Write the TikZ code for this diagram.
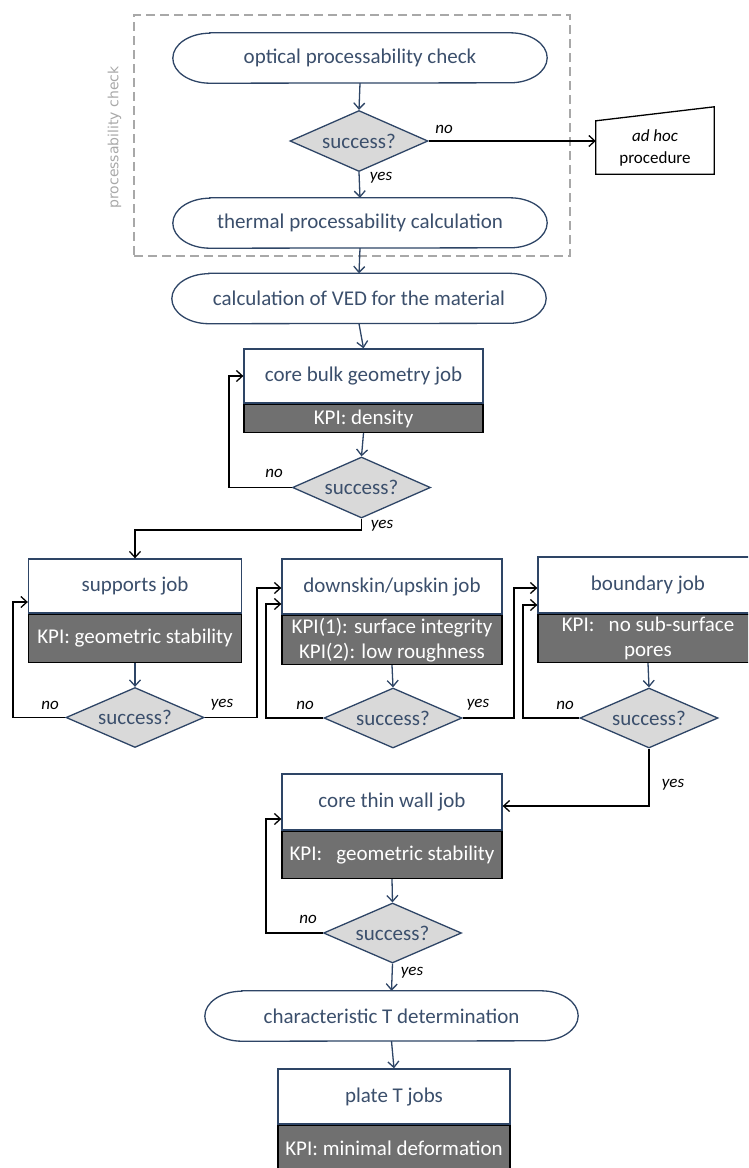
\documentclass[tikz,border=0pt]{standalone}
\usepackage{fontspec}
\setmainfont{Carlito}
\newfontfamily\dejavu{DejaVu Sans}
\usetikzlibrary{shapes.geometric,arrows.meta}
\definecolor{txt}{HTML}{3B4F6C}
\definecolor{bord}{HTML}{2E4566}
\definecolor{kpig}{HTML}{707070}
\definecolor{decg}{HTML}{D9D9D9}
\definecolor{dashg}{HTML}{A8A8A8}
\tikzset{
  base/.style={font=\fontsize{21}{25}\selectfont, text=txt, inner sep=0pt, align=center},
  term/.style={base, minimum width=374pt, minimum height=50pt},
  termline/.style={draw=bord, line width=1.3pt, fill=white},
  job/.style={base, draw=bord, line width=1.3pt, fill=white},
  kpi/.style={base, draw=black, line width=1.5pt, fill=kpig, text=white},
  dec/.style={base, diamond, draw=bord, fill=decg, line width=1.3pt,
    minimum width=138pt, minimum height=61pt, aspect=2.2},
  lab/.style={font=\fontsize{17}{20}\selectfont\itshape, text=black, inner sep=0pt},
  flow/.style={draw=bord, line width=1.3pt, -{Straight Barb[length=6pt,width=11pt]}},
  back/.style={draw=black, line width=1.3pt, -{Straight Barb[length=6pt,width=11pt]}},
}
\newcommand\stadium[1]{%
  \draw[termline] ([xshift=37pt]#1.north west) -- ([xshift=-37pt]#1.north east)
    arc[start angle=90,end angle=-90,x radius=37pt,y radius=25pt]
    -- ([xshift=37pt]#1.south west)
    arc[start angle=270,end angle=90,x radius=37pt,y radius=25pt] -- cycle;}
\begin{document}
\begin{tikzpicture}[x=1pt,y=-1pt]
\useasboundingbox (0,0) rectangle (748,1168);
\clip (0,0) rectangle (748,1168);

% processability group
\node[draw=dashg, line width=1.5pt, dash pattern=on 9pt off 5pt,
      minimum width=436pt, minimum height=241pt, inner sep=0pt] (grp) at (352,135.5) {};
\node[rotate=90, font=\dejavu\fontsize{14}{16}\selectfont, text=dashg, inner sep=0pt] (grplab) at (114.5,137.5) {processability check};

% terminals
\node[term] (t1) at (360,58) {};
\stadium{t1}
\node[base] at (t1) {optical processability check};
\node[dec] (d1) at (359,141) {success?};
\node[term] (t2) at (360,223) {};
\stadium{t2}
\node[base] at (t2) {thermal processability calculation};
\node[term, minimum height=50pt] (t3) at (359,298.5) {};
\stadium{t3}
\node[base] at (t3) {calculation of VED for the material};

% ad hoc
\node[base, font=\fontsize{17}{22}\selectfont, text=black, minimum width=118pt, minimum height=53pt] (adhoc) at (655,147.5) {\textit{ad hoc}\\procedure};
\draw[line width=1.3pt] (adhoc.south west) -- (adhoc.north west) -- ([yshift=14pt]adhoc.north east) -- (adhoc.south east) -- cycle;

% core bulk
\node[job, minimum width=239pt, minimum height=54pt] (core) at (363.5,376) {core bulk geometry job};
\node[kpi, minimum width=239pt, minimum height=28pt, anchor=north] (kcore) at (core.south) {KPI: density};
\node[dec] (d2) at (361.5,487.5) {success?};

% row of jobs
\node[job, minimum width=213pt, minimum height=54pt] (sup) at (135,586) {supports job};
\node[kpi, minimum width=213pt, minimum height=48pt, anchor=north] (ksup) at (sup.south) {KPI: geometric stability};
\node[job, minimum width=220pt, minimum height=55pt] (dsk) at (392,586.5) {downskin/upskin job};
\node[kpi, minimum width=220pt, minimum height=49pt, anchor=north] (kdsk) at (dsk.south) {KPI(1): surface integrity\\KPI(2): low roughness};
\node[job, minimum width=220pt, minimum height=56pt] (bnd) at (648,585) {boundary job};
\node[kpi, minimum width=220pt, minimum height=48pt, anchor=north] (kbnd) at (bnd.south) {KPI:\ \ \ no sub-surface\\pores};

\node[dec, minimum height=60pt] (d3) at (135,717.5) {success?};
\node[dec, minimum height=60pt] (d4) at (393,718) {success?};
\node[dec, minimum height=60pt] (d5) at (649,718) {success?};

% core thin wall
\node[job, minimum width=220pt, minimum height=56pt] (thin) at (392,802) {core thin wall job};
\node[kpi, minimum width=220pt, minimum height=47pt, anchor=north] (kthin) at (thin.south) {KPI:\ \ \ geometric stability};
\node[dec, minimum height=60pt] (d6) at (392.5,933) {success?};

\node[term, minimum width=373pt] (t4) at (391.5,1016) {};
\stadium{t4}
\node[base] at (t4) {characteristic T determination};

\node[job, minimum width=232pt, minimum height=55pt] (plate) at (394,1096.5) {plate T jobs};
\node[kpi, minimum width=232pt, minimum height=50pt, anchor=north] (kplate) at (plate.south) {};
\node[base, text=white] at (394,1148) {KPI: minimal deformation};

% helper coordinates
\coordinate (c1) at (229,376);
\coordinate (j1) at (135,530);
\coordinate (c3) at (13,602);
\coordinate (c4) at (257,588);
\coordinate (c5) at (266,604);
\coordinate (c6) at (514,588);
\coordinate (c7) at (523,605);
\coordinate (c8) at (649,806);
\coordinate (c9) at (266,819);

% connectors
\draw[flow] (t1.south) -- (d1.north);
\draw[flow] (d1.south) -- (t2.north);
\draw[back] (d1.east) -- (d1.east -| adhoc.west);
\draw[flow] (t2.south) -- (t3.north);
\draw[flow] (t3.south) -- (core.north);
\draw[flow] (kcore.south) -- (d2.north);
\draw[back] (d2.west) -| (c1) -- (core.west);
\draw[back] (d2.south) |- (j1) -- (sup.north);

\draw[flow] (ksup.south) -- (d3.north);
\draw[flow] (kdsk.south) -- (d4.north);
\draw[flow] (kbnd.south) -- (d5.north);
\draw[back] (d3.west) -| (c3) -- (c3 -| sup.west);
\draw[back] (d3.east) -| (c4) -- (c4 -| dsk.west);
\draw[back] (d4.west) -| (c5) -- (c5 -| dsk.west);
\draw[back] (d4.east) -| (c6) -- (c6 -| bnd.west);
\draw[back] (d5.west) -| (c7) -- (c7 -| bnd.west);
\draw[back] (d5.south) -- (c8) -- (c8 -| thin.east);

\draw[flow] (kthin.south) -- (d6.north);
\draw[back] (d6.west) -| (c9) -- (c9 -| thin.west);
\draw[flow] (d6.south) -- (t4.north);
\draw[flow] (t4.south) -- (plate.north);

% labels
\node[lab] (l1) at (444,129) {no};
\node[lab] (l2) at (381,178) {yes};
\node[lab] (l3) at (274,473) {no};
\node[lab] (l4) at (382,526) {yes};
\node[lab] (l5) at (50,705) {no};
\node[lab] (l6) at (222,705) {yes};
\node[lab] (l7) at (305,705) {no};
\node[lab] (l8) at (478,705) {yes};
\node[lab] (l9) at (565,705) {no};
\node[lab] (l10) at (673,785) {yes};
\node[lab] (l11) at (308,919) {no};
\node[lab] (l12) at (412,973) {yes};
\end{tikzpicture}
\end{document}
